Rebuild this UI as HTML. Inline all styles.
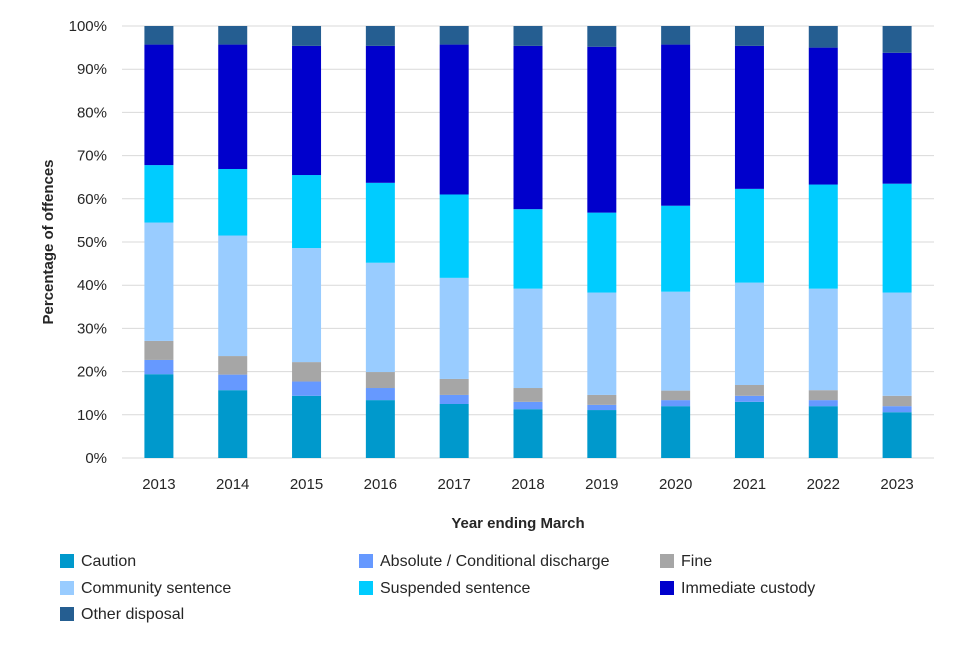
<!DOCTYPE html>
<html><head><meta charset="utf-8"><style>
body{margin:0;background:#fff;font-family:"Liberation Sans",Arial,sans-serif;}
svg text{font-family:"Liberation Sans",Arial,sans-serif;fill:#262626}
</style></head><body>
<svg id="chart" width="960" height="640" xmlns="http://www.w3.org/2000/svg"></svg>
<script>
const categories=["2013","2014","2015","2016","2017","2018","2019","2020","2021","2022","2023"];
const seriesNames=["Caution","Absolute / Conditional discharge","Fine","Community sentence","Suspended sentence","Immediate custody","Other disposal"];
const seriesColors=["#0099CC","#6699FF","#A6A6A6","#99CCFF","#00CCFF","#0000CC","#255E91"];
// cumulative tops converted to shares
const caution=[19.4,15.7,14.4,13.4,12.5,11.3,11.1,12.0,13.0,12.0,10.6];
const discharge=[3.3,3.6,3.3,2.8,2.1,1.7,1.2,1.4,1.4,1.4,1.4];
const fine=[4.4,4.3,4.5,3.7,3.7,3.2,2.3,2.2,2.5,2.3,2.4];
const community=[27.4,27.9,26.4,25.3,23.4,23.0,23.7,22.9,23.7,23.5,23.9];
const suspended=[13.3,15.4,16.9,18.5,19.3,18.4,18.5,19.9,21.7,24.1,25.2];
const custody=[27.9,28.8,29.9,31.7,34.7,37.8,38.4,37.3,33.1,31.7,30.3];
const other=[4.3,4.3,4.6,4.6,4.3,4.6,4.8,4.3,4.6,5.0,6.2];
const yTicks=["0%","10%","20%","30%","40%","50%","60%","70%","80%","90%","100%"];
const series=[caution,discharge,fine,community,suspended,custody,other];

const NS="http://www.w3.org/2000/svg";
const svg=document.getElementById("chart");
const L=122,R=934,T=26,B=458;
const band=(R-L)/categories.length, barW=29;
function y(v){return B-(B-T)*v/100;}
function xc(i){return L+band*(i+0.5);}
function mk(tag,attrs,parent){const e=document.createElementNS(NS,tag);for(const k in attrs)e.setAttribute(k,attrs[k]);(parent||svg).appendChild(e);return e;}

yTicks.forEach((t,i)=>{
  const v=i*10;
  const g=mk("line",{x1:L,x2:R,y1:y(v),y2:y(v),stroke:"#d9d9d9","stroke-width":1});
  
  
  const tx=mk("text",{x:107,y:y(v)+5,"text-anchor":"end","font-size":15});
  tx.textContent=t;
  
  
});
categories.forEach((c,i)=>{
  let acc=0;
  series.forEach((s,k)=>{
    const r=mk("rect",{x:xc(i)-barW/2,y:y(acc+s[i]),width:barW,height:y(acc)-y(acc+s[i]),fill:seriesColors[k]});
    
    
    acc+=s[i];
  });
  const tx=mk("text",{x:xc(i),y:489,"text-anchor":"middle","font-size":15});
  tx.textContent=c;
  
  
});
const xt=mk("text",{x:518,y:528,"text-anchor":"middle","font-size":15,"font-weight":"bold"});
xt.textContent="Year ending March";


const yt=mk("text",{x:0,y:0,"text-anchor":"middle","font-size":15,"font-weight":"bold",transform:"translate(53,242) rotate(-90)"});
yt.textContent="Percentage of offences";



const lx=[60,359,660],ly=[560,587,613];
seriesNames.forEach((n,k)=>{
  const cx=lx[k%3],cy=ly[Math.floor(k/3)];
  const g=mk("g",{});
  
  
  mk("rect",{x:cx,y:cy-6,width:14,height:14,fill:seriesColors[k]},g);
  const t=mk("text",{x:cx+21,y:cy+6,"font-size":16},g);
  t.textContent=n;
});
</script>
</body></html>
